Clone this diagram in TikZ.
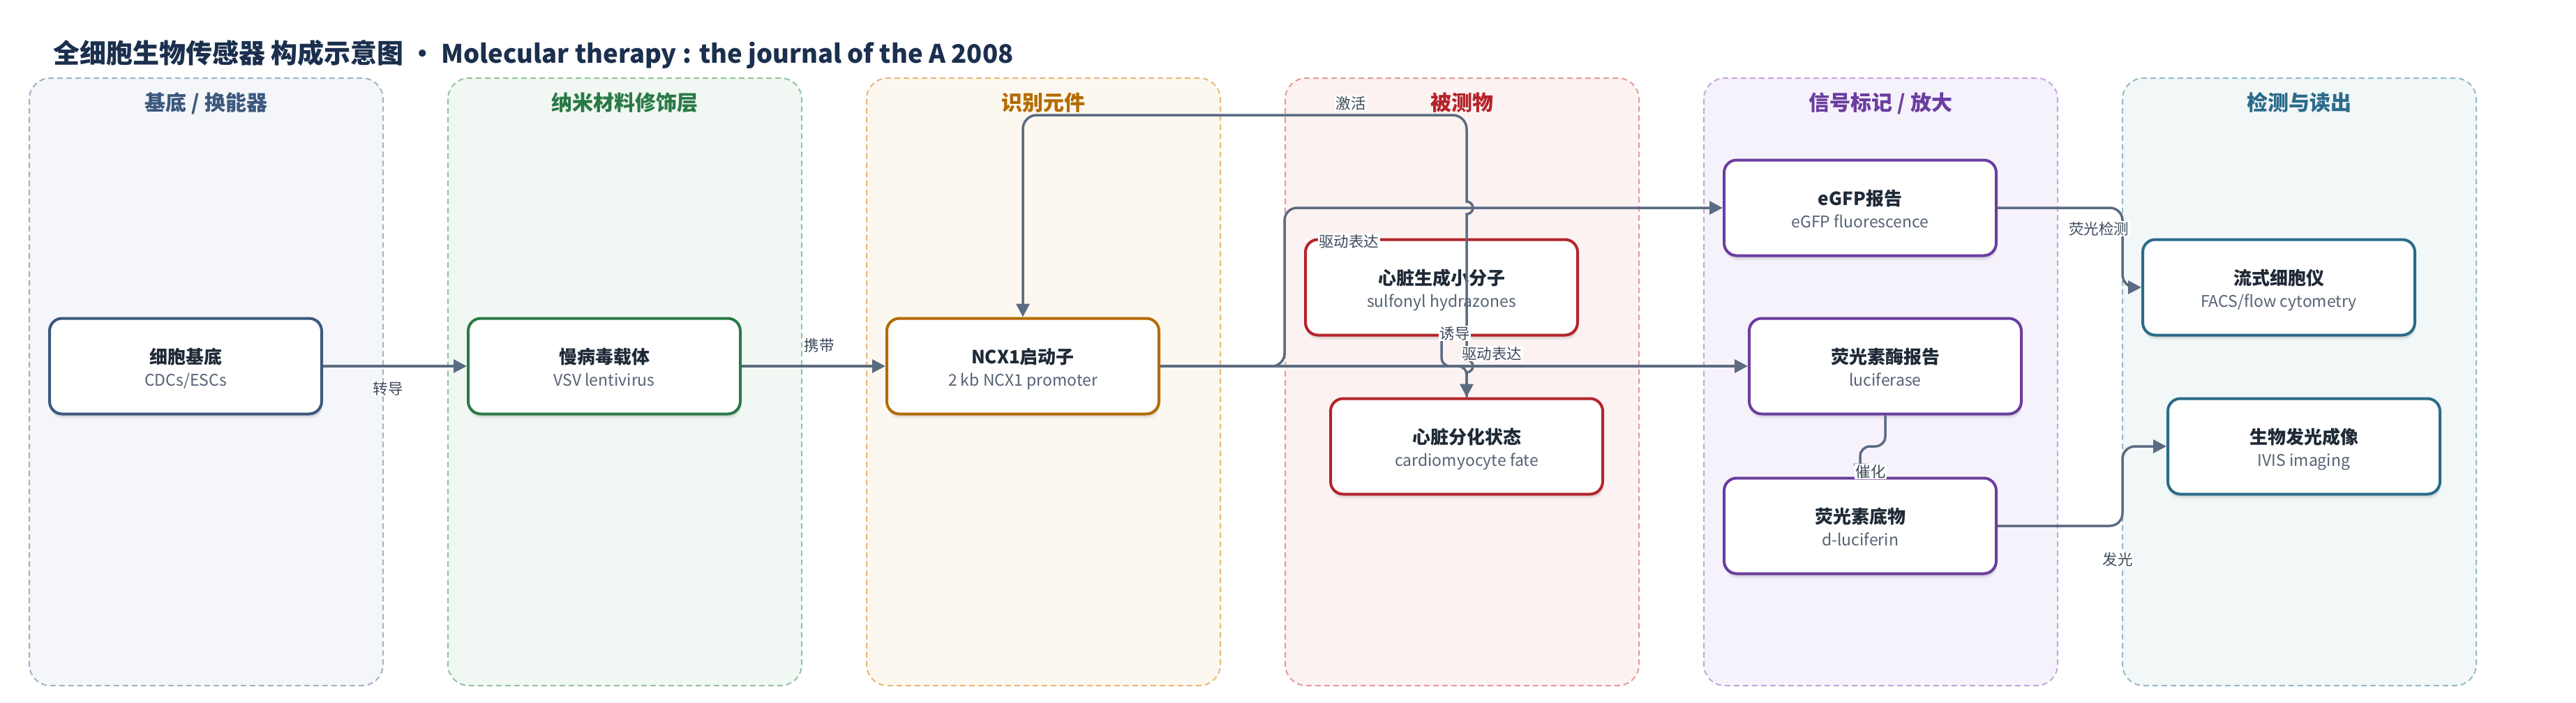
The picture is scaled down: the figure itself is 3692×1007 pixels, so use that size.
\documentclass[tikz,border=0pt]{standalone}
\usepackage{fontspec}
\setmainfont{Noto Sans CJK SC}
\usetikzlibrary{arrows.meta,shadows}
\definecolor{titlecol}{HTML}{1B2F4E}
\definecolor{txtdark}{HTML}{1F2A37}
\definecolor{txtgray}{HTML}{566274}
\definecolor{labcol}{HTML}{3D4A5C}
\definecolor{conncol}{HTML}{5B6B82}
\definecolor{laAf}{HTML}{F4F6FA}\definecolor{laAb}{HTML}{A3B1C6}\definecolor{laAt}{HTML}{3C587E}
\definecolor{laBf}{HTML}{F1F8F3}\definecolor{laBb}{HTML}{93C3A0}\definecolor{laBt}{HTML}{2A7A46}
\definecolor{laCf}{HTML}{FDF8EF}\definecolor{laCb}{HTML}{E6B877}\definecolor{laCt}{HTML}{B36B00}
\definecolor{laDf}{HTML}{FDF2F2}\definecolor{laDb}{HTML}{E59A9A}\definecolor{laDt}{HTML}{B3242A}
\definecolor{laEf}{HTML}{F6F2FB}\definecolor{laEb}{HTML}{C3A6DF}\definecolor{laEt}{HTML}{6A3D9F}
\definecolor{laFf}{HTML}{F2F7F8}\definecolor{laFb}{HTML}{93BCCB}\definecolor{laFt}{HTML}{2A6B8A}
\newcommand\mkbox[6]{%
  \node[box, draw=#4] (#1) at (#2,#3) {};
  \node[ttl] (#1-t) at (#2,#3-4) {#5};
  \node[subt] (#1-s) at (#2,#3+28) {#6};
}
\begin{document}
\begin{tikzpicture}[x=1pt,y=-1pt,
  lane/.style={rectangle, dash pattern=on 8pt off 5pt, line width=2pt, rounded corners=30pt, minimum width=507pt, minimum height=871pt, inner sep=0pt},
  box/.style={rectangle, line width=4pt, rounded corners=18pt, fill=white, minimum width=390pt, minimum height=137pt, inner sep=0pt,
    drop shadow={shadow xshift=1pt, shadow yshift=-7pt, opacity=0.05, fill=black},
    drop shadow={shadow xshift=1pt, shadow yshift=-4pt, opacity=0.08, fill=black}},
  ttl/.style={anchor=base, font=\fontsize{26}{30}\selectfont\bfseries, text=txtdark, inner sep=0pt},
  subt/.style={anchor=base, font=\fontsize{23}{28}\selectfont, text=txtgray, inner sep=0pt},
  lanetitle/.style={anchor=base, font=\fontsize{30}{36}\selectfont\bfseries, inner sep=0pt},
  conn/.style={draw=conncol, line width=3.5pt, -{Triangle[length=19pt,width=19pt]}},
  elab/.style={fill=white, inner sep=1.5pt, font=\fontsize{21.5}{25}\selectfont, text=labcol},
]
\useasboundingbox (0,0) rectangle (3692,1007);
\fill[white] (0,0) rectangle (3692,1007);

\node[anchor=base west, inner sep=0pt, text=titlecol, font=\bfseries] (title) at (76,90)
  {{\fontsize{38}{44}\selectfont 全细胞生物传感器 构成示意图}{\fontsize{36.5}{44}\selectfont\ · Molecular therapy : the journal of the A 2008}};

% lanes
\node[lane, draw=laAb, fill=laAf] (lane1) at (295.5,547.5) {};
\node[lane, draw=laBb, fill=laBf] (lane2) at (895.5,547.5) {};
\node[lane, draw=laCb, fill=laCf] (lane3) at (1495.5,547.5) {};
\node[lane, draw=laDb, fill=laDf] (lane4) at (2095.5,547.5) {};
\node[lane, draw=laEb, fill=laEf] (lane5) at (2695.5,547.5) {};
\node[lane, draw=laFb, fill=laFf] (lane6) at (3295.5,547.5) {};
\node[lanetitle, text=laAt] (lane1-t) at (295.5,158) {基底 / 换能器};
\node[lanetitle, text=laBt] (lane2-t) at (895.5,158) {纳米材料修饰层};
\node[lanetitle, text=laCt] (lane3-t) at (1495.5,158) {识别元件};
\node[lanetitle, text=laDt] (lane4-t) at (2095.5,158) {被测物};
\node[lanetitle, text=laEt] (lane5-t) at (2695.5,158) {信号标记 / 放大};
\node[lanetitle, text=laFt] (lane6-t) at (3295.5,158) {检测与读出};

% nodes
\mkbox{cell}{266}{525}{laAt}{细胞基底}{CDCs/ESCs}
\mkbox{vsv}{866}{525}{laBt}{慢病毒载体}{VSV lentivirus}
\mkbox{ncx}{1466}{525}{laCt}{NCX1启动子}{2 kb NCX1 promoter}
\mkbox{mol}{2066}{412}{laDt}{心脏生成小分子}{sulfonyl hydrazones}
\mkbox{fate}{2102}{640}{laDt}{心脏分化状态}{cardiomyocyte fate}
\mkbox{egfp}{2666}{298}{laEt}{eGFP报告}{eGFP fluorescence}
\mkbox{luc}{2702}{525}{laEt}{荧光素酶报告}{luciferase}
\mkbox{sub}{2666}{754}{laEt}{荧光素底物}{d-luciferin}
\mkbox{facs}{3266}{412}{laFt}{流式细胞仪}{FACS/flow cytometry}
\mkbox{ivis}{3302}{640}{laFt}{生物发光成像}{IVIS imaging}

% connectors
\draw[conn] (cell.east) -- (vsv.west);
\draw[conn] (vsv.east) -- (ncx.west);
\draw[conn, rounded corners=18] (ncx.east) -- (1841,525) -- (1841,298) -- (egfp.west);
\draw[conn] (ncx.east) -- (luc.west);
\draw[conn, rounded corners=12] (mol.south) -- (2066,525) -- (2102,525) -- (fate.north);
\draw[conn] (fate.north) -- (2102,534) arc[start angle=90, end angle=-90, radius=9]
  -- (2102,307) arc[start angle=90, end angle=-90, radius=9]
  -- (2102,270) [rounded corners=20] -- (2102,165) -- (1466,165) -- (ncx.north);
\draw[conn, rounded corners=18] (egfp.east) -- (3042,298) -- (3042,412) -- (facs.west);
\draw[conn, rounded corners=18] (sub.east) -- (3042,754) -- (3042,640) -- (ivis.west);
\draw[conn, rounded corners=14] (luc.south) -- (2702,640) -- (2666,640) -- (sub.north);

% labels
\node[elab] (lb1) at (556,557) {转导};
\node[elab] (lb2) at (1174,495) {携带};
\node[elab] (lb3) at (1933,346) {驱动表达};
\node[elab] (lb4) at (2138,507) {驱动表达};
\node[elab] (lb5) at (2085,478) {诱导};
\node[elab] (lb6) at (1936,148) {激活};
\node[elab] (lb7) at (3008,328) {荧光检测};
\node[elab] (lb8) at (3035,802) {发光};
\node[elab] (lb9) at (2681,676) {催化};
\end{tikzpicture}
\end{document}
